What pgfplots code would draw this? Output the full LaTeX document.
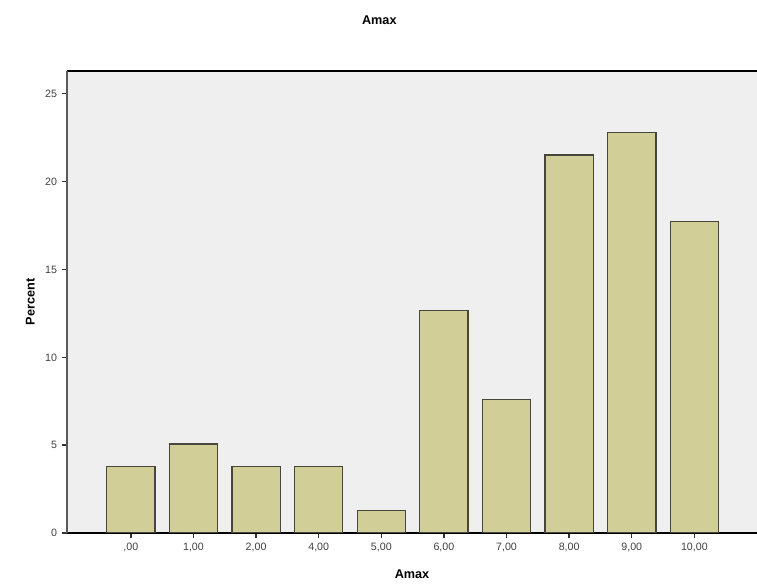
\documentclass[border=0pt]{standalone}
\usepackage{pgfplots}
\pgfplotsset{compat=1.18}
\usepackage{fontspec}
\setmainfont{Liberation Sans}
\definecolor{barfill}{RGB}{210,206,152}
\definecolor{barline}{RGB}{70,70,60}
\definecolor{bg}{RGB}{239,239,239}
\begin{document}
\begin{tikzpicture}
\useasboundingbox (0,0) rectangle (567.75pt,438.75pt);
\begin{axis}[
  at={(50.25pt,39pt)}, anchor=south west,
  scale only axis, width=517.5pt, height=346.5pt,
  xmin=-1.02, xmax=10.0, ymin=0, ymax=26.3,
  axis x line*=box, axis y line*=left,
  axis line style={black, line width=0.9pt},
  y axis line style={gray!70!black, line width=1.2pt},
  axis background/.style={fill=bg},
  xtick={0,...,9},
  xticklabels={{,00},{1,00},{2,00},{4,00},{5,00},{6,00},{7,00},{8,00},{9,00},{10,00}},
  ytick={0,5,10,15,20,25},
  tick align=outside, major tick length=4pt,
  tick style={gray!40!black, line width=1pt},
  xtick pos=bottom, ytick pos=left,
  /pgf/number format/assume math mode=true,
  ticklabel style={font=\fontsize{8}{10}\selectfont, text=black!75},
  xlabel={\textbf{Amax}}, ylabel={\textbf{Percent}},
  label style={font=\fontsize{9.5}{11}\selectfont},
  xlabel style={at={(axis description cs:0.5,0)}, anchor=center, yshift=-31pt},
  ylabel style={at={(axis description cs:0,0.5)}, anchor=center, yshift=27.5pt},
]
\addplot[ybar, bar width=0.77, fill=barfill, draw=barline, line width=1pt]
  coordinates {
  (0,3.797) (1,5.063) (2,3.797) (3,3.797) (4,1.266) (5,12.658) (6,7.595) (7,21.519) (8,22.785) (9,17.722)
};
\end{axis}
\node[font=\fontsize{9.5}{11}\selectfont\bfseries] at (284.5pt,423.75pt) {Amax};
\end{tikzpicture}
\end{document}
